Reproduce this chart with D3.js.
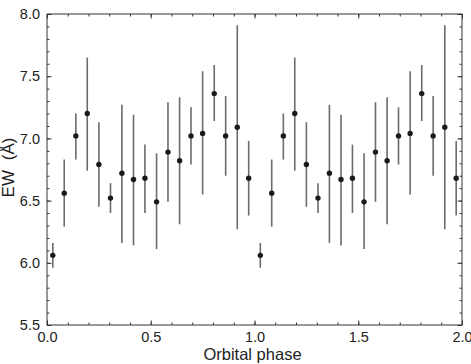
<!DOCTYPE html>
<html>
<head>
<meta charset="utf-8">
<script src="https://cdn.jsdelivr.net/npm/d3@7"></script>
<style>
  body { margin: 0; background: #fff; }
  svg text { font-family: "Liberation Sans", Arial, Helvetica, sans-serif; fill: #222; }
</style>
</head>
<body>
<div id="chart"></div>
<script>
// phase-binned equivalent widths, one orbital cycle (plotted twice)
const phase = [0.028, 0.083, 0.139, 0.194, 0.250, 0.306, 0.361, 0.417, 0.472,
               0.528, 0.583, 0.639, 0.694, 0.750, 0.806, 0.861, 0.917, 0.972];
const ew    = [6.06, 6.56, 7.02, 7.20, 6.79, 6.52, 6.72, 6.67, 6.68,
               6.49, 6.89, 6.82, 7.02, 7.04, 7.36, 7.02, 7.09, 6.68];
const ewLow = [5.96, 6.29, 6.83, 6.74, 6.45, 6.40, 6.16, 6.14, 6.40,
               6.11, 6.49, 6.31, 6.79, 6.55, 7.14, 6.70, 6.27, 6.38];
const ewHigh = [6.16, 6.83, 7.20, 7.65, 7.13, 6.64, 7.27, 7.19, 6.95,
                6.88, 7.29, 7.33, 7.25, 7.54, 7.59, 7.34, 7.91, 6.98];
const cycles = [0, 1];
const xTicks = [0.0, 0.5, 1.0, 1.5, 2.0];
const yTicks = [5.5, 6.0, 6.5, 7.0, 7.5, 8.0];

const width = 471, height = 364;
const margin = {top: 14, right: 9, bottom: 39, left: 47};
const w = width - margin.left - margin.right;
const h = height - margin.top - margin.bottom;

const svg = d3.select("#chart").append("svg")
    .attr("width", width)
    .attr("height", height);

const g = svg.append("g")
    .attr("transform", `translate(${margin.left},${margin.top})`);

const x = d3.scaleLinear().domain([0, 2]).range([0, w]);
const y = d3.scaleLinear().domain([5.5, 8.0]).range([h, 0]);

const minorX = d3.range(0, 2.0001, 0.1);
const minorY = d3.range(5.5, 8.0001, 0.1);

// ticks without labels, all four sides, pointing inward
function bare(axis, tr) {
  const a = g.append("g").attr("transform", tr).call(axis);
  a.selectAll("text").remove();
  a.select(".domain").remove();
  a.selectAll("line").attr("stroke", "#333");
}
bare(d3.axisBottom(x).tickValues(minorX).tickSize(-2.5), `translate(0,${h})`);
bare(d3.axisTop(x).tickValues(minorX).tickSize(-2.5), "translate(0,0)");
bare(d3.axisLeft(y).tickValues(minorY).tickSize(-2.5), "translate(0,0)");
bare(d3.axisRight(y).tickValues(minorY).tickSize(-2.5), `translate(${w},0)`);

// major ticks with labels
const xAx = g.append("g").attr("transform", `translate(0,${h})`)
    .call(d3.axisBottom(x).tickValues(xTicks).tickFormat(d3.format(".1f"))
      .tickSizeInner(-4.5).tickSizeOuter(0).tickPadding(7));
const yAx = g.append("g")
    .call(d3.axisLeft(y).tickValues(yTicks).tickFormat(d3.format(".1f"))
      .tickSizeInner(-4.5).tickSizeOuter(0).tickPadding(7));
bare(d3.axisTop(x).tickValues(xTicks).tickSize(-4.5), "translate(0,0)");
bare(d3.axisRight(y).tickValues(yTicks).tickSize(-4.5), `translate(${w},0)`);

[xAx, yAx].forEach(a => {
  a.select(".domain").remove();
  a.selectAll("line").attr("stroke", "#333");
  a.selectAll("text").style("font-size", "14.5px").attr("fill", "#222");
});

// frame
g.append("rect")
    .attr("width", w).attr("height", h)
    .attr("fill", "none").attr("stroke", "#333").attr("stroke-width", 1);

// points with error bars
const pts = [];
cycles.forEach(c => phase.forEach((p, i) =>
  pts.push({ph: p + c, v: ew[i], lo: ewLow[i], hi: ewHigh[i]})));

g.append("g").selectAll("line")
  .data(pts).join("line")
    .attr("x1", d => x(d.ph)).attr("x2", d => x(d.ph))
    .attr("y1", d => y(d.lo)).attr("y2", d => y(d.hi))
    .attr("stroke", "#6b6b6b")
    .attr("stroke-width", 1.6);

g.append("g").selectAll("circle")
  .data(pts).join("circle")
    .attr("cx", d => x(d.ph))
    .attr("cy", d => y(d.v))
    .attr("r", 2.7)
    .attr("fill", "#1a1a1a");

// axis titles
svg.append("text")
    .attr("x", margin.left + w / 2 - 2)
    .attr("y", 360)
    .attr("text-anchor", "middle")
    .style("font-size", "16.5px")
    .text("Orbital phase");

svg.append("text")
    .attr("transform", `translate(14,${margin.top + h / 2 - 2}) rotate(-90)`)
    .attr("text-anchor", "middle")
    .style("font-size", "17px")
    .style("word-spacing", "5px")
    .text("EW (Å)");
</script>
</body>
</html>
